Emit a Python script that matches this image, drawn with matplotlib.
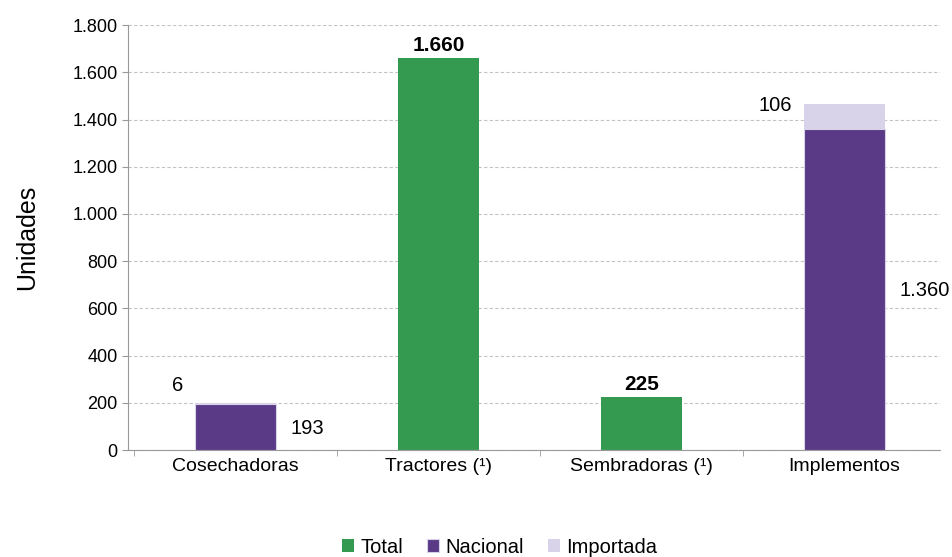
import numpy as np
import matplotlib.pyplot as plt
from matplotlib.ticker import FuncFormatter, FixedLocator

plt.rcParams['font.family'] = ['Liberation Sans', 'DejaVu Sans']

categorias = ["Cosechadoras", "Tractores (¹)", "Sembradoras (¹)", "Implementos"]
total = [0, 1660, 225, 0]
nacional = [193, 0, 0, 1360]
importada = [6, 0, 0, 106]

c_total = "#349A50"
c_nac = "#5A3A86"
c_imp = "#D8D3E8"


def miles(v, pos=None):
    return f"{int(v):,}".replace(",", ".")


fig = plt.figure(figsize=(9.52, 5.57), dpi=100)
ax = fig.add_axes([0.1345, 0.192, 0.853, 0.763])

x = np.arange(len(categorias))
w = 0.4
ax.bar(x, total, w, color=c_total, label="Total", zorder=3)
ax.bar(x, nacional, w, color=c_nac, edgecolor=c_imp, linewidth=0.8, label="Nacional", zorder=3)
ax.bar(x, importada, w, bottom=nacional, color=c_imp, label="Importada", zorder=3)

# etiquetas
for i in range(len(categorias)):
    if total[i]:
        ax.text(x[i], total[i] + 12, miles(total[i]), ha="center", va="bottom",
                fontsize=15, fontweight="bold")
    if nacional[i]:
        top = nacional[i] + importada[i]
        ax.text(x[i] - 0.26, top + (75 if i == 0 else -5), miles(importada[i]),
                ha="right", va="center", fontsize=14.5)
        ax.text(x[i] + 0.27, nacional[i] / 2 - 5, miles(nacional[i]),
                ha="left", va="center", fontsize=14.5)

ax.set_xlim(-0.53, 3.47)
ax.set_ylim(0, 1800)
ax.yaxis.set_major_locator(FixedLocator(np.arange(0, 1801, 200)))
ax.yaxis.set_major_formatter(FuncFormatter(miles))
ax.set_xticks(x)
ax.set_xticklabels(categorias, fontsize=14)
ax.tick_params(axis="x", length=0, pad=6)
ax.set_xticks(np.arange(-0.5, 3.5, 1), minor=True)
ax.tick_params(axis="x", which="minor", length=4, color="#999999")
ax.tick_params(axis="y", labelsize=13, length=4, color="#999999")
ax.grid(axis="y", linestyle=(0, (3, 2)), color="#C4C4C4", linewidth=0.8, zorder=0)
for s in ["top", "right"]:
    ax.spines[s].set_visible(False)
ax.spines["left"].set_color("#999999")
ax.spines["bottom"].set_color("#999999")
ax.set_ylabel("Unidades", fontsize=18, labelpad=24)

fig.legend(loc="lower center", ncol=3, frameon=False, fontsize=14.5,
           bbox_to_anchor=(0.525, -0.032), handlelength=0.6, handleheight=0.6,
           handletextpad=0.3, columnspacing=1.2)

fig.savefig("out.png", dpi=100)
